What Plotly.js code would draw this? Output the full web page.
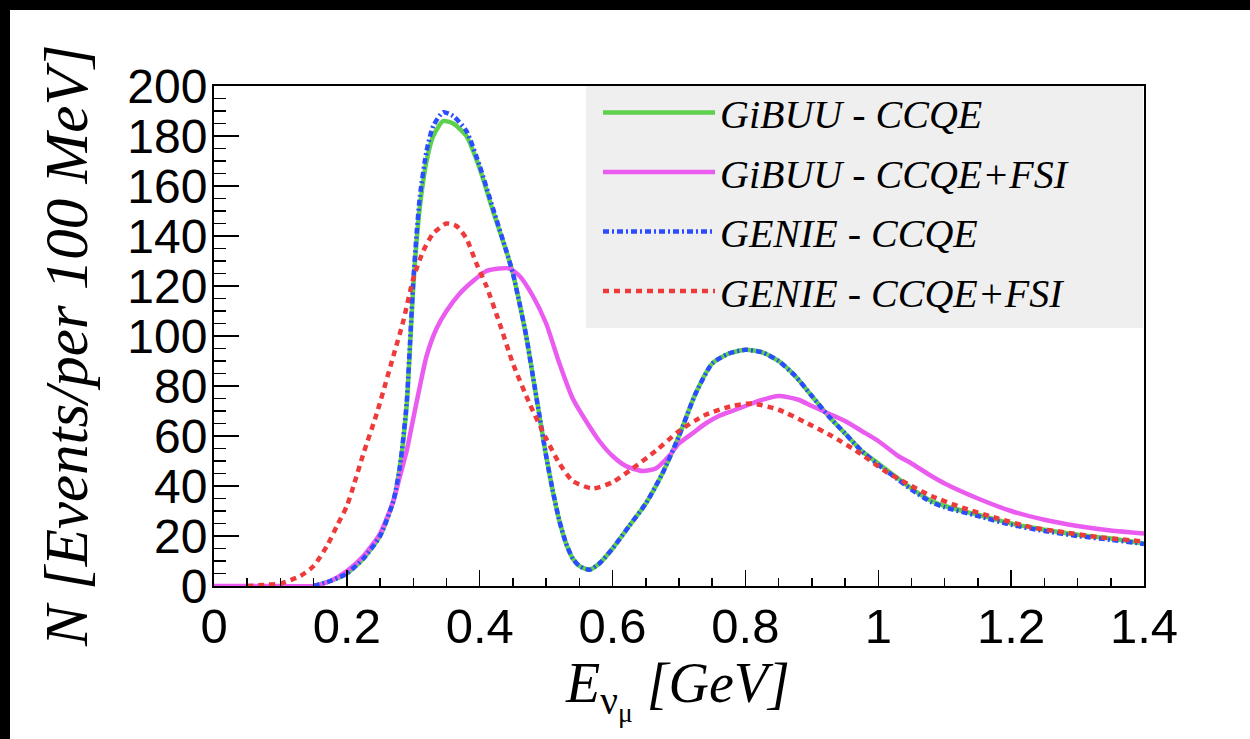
<!DOCTYPE html>
<html>
<head>
<meta charset="utf-8">
<script src="https://cdn.plot.ly/plotly-3.0.1.min.js"></script>
<style>html,body{margin:0;padding:0;background:#fff;}#plot{width:1250px;height:739px;}</style>
</head>
<body>
<div id="plot"></div>
<script>
// ---- data ----
const seriesNames = ["GiBUU - CCQE", "GiBUU - CCQE+FSI", "GENIE - CCQE", "GENIE - CCQE+FSI"];

const gibuuE = [0.15,0.175,0.20,0.225,0.25,0.27,0.28,0.29,0.295,0.30,0.305,0.31,0.32,0.33,0.345,0.36,0.38,0.40,0.42,0.44,0.45,0.46,0.47,0.48,0.49,0.50,0.51,0.52,0.53,0.54,0.55,0.565,0.58,0.60,0.625,0.65,0.675,0.70,0.725,0.75,0.775,0.80,0.825,0.85,0.875,0.90,0.925,0.95,0.975,1.0,1.03,1.05,1.08,1.10,1.15,1.20,1.25,1.30,1.35,1.40];
const gibuuN = [0,2,5,11,20,34,48,72,95,120,138,152,170,180,186,185,180,167,150,134,125,113,100,84,68,52,38,26,17,11,8,6.5,9,15,24,33,45,60,77,89,93,94.5,93.5,90,84,76,68,61,54,49,43,39,34,32,28.5,25,22.5,20.5,19,17];

const gibuuFsiE = [0,0.05,0.10,0.15,0.175,0.20,0.225,0.25,0.27,0.28,0.29,0.30,0.31,0.32,0.335,0.35,0.37,0.39,0.41,0.43,0.445,0.46,0.48,0.50,0.52,0.54,0.56,0.58,0.60,0.62,0.645,0.665,0.685,0.70,0.72,0.74,0.76,0.78,0.80,0.82,0.85,0.88,0.90,0.925,0.95,0.975,1.0,1.03,1.05,1.08,1.10,1.15,1.20,1.25,1.30,1.35,1.40];
const gibuuFsiN = [0,0,0,0,2,6,12,21,34,44,54,67,80,92,103,110,117,122,126,127,127,124,116,105,89,75,66,58,52,48,46,47,52,57,61,65,68,70,72,74,76,74.5,72,69,66,62,58,52,49,44,41,35,30,26.5,24,22.2,21];

const genieE = [0.15,0.175,0.20,0.225,0.25,0.27,0.28,0.29,0.295,0.30,0.305,0.31,0.32,0.33,0.345,0.36,0.38,0.40,0.42,0.44,0.45,0.46,0.47,0.48,0.49,0.50,0.51,0.52,0.53,0.54,0.55,0.565,0.58,0.60,0.625,0.65,0.675,0.70,0.725,0.75,0.775,0.80,0.825,0.85,0.875,0.90,0.925,0.95,0.975,1.0,1.03,1.05,1.08,1.10,1.15,1.20,1.25,1.30,1.35,1.40];
const genieN = [0,2,5,11,20,34,48,73,97,122,141,156,174,184,189.5,188,182,168,151,134,125,113,100,84,68,52,38,26,17,11,8,6.5,9,15,24,33,45,60,77,89,93,94.5,93.5,90,84,76,68,61,54,48.5,42.5,38.5,33.5,31.5,28,24.5,22,20,18.5,16.8];

const genieFsiE = [0.05,0.08,0.10,0.13,0.15,0.17,0.185,0.20,0.21,0.225,0.245,0.27,0.285,0.30,0.315,0.33,0.35,0.365,0.38,0.395,0.41,0.43,0.45,0.475,0.50,0.52,0.54,0.57,0.60,0.63,0.665,0.70,0.74,0.78,0.81,0.85,0.89,0.93,0.97,1.01,1.05,1.08,1.13,1.18,1.23,1.28,1.33,1.40];
const genieFsiN = [0,0.5,1,4,8,16,24,32,40,53,69,92,106,123,134,141,145,144,139,129,120,105,89,73,59,49,42,39,41.5,47,54,62,68.5,72,73,70.5,65.5,60,53.5,46,40,36,31,27,23.5,21.5,19.6,17.8];

const xTickVals = [0,0.2,0.4,0.6,0.8,1,1.2,1.4];
const yTickVals = [0,20,40,60,80,100,120,140,160,180,200];

// ---- drawing ----
const serif = "Liberation Serif";
const sans = "Liberation Sans";

function tr(x, y, name, color, dash, group) {
  return {
    x: x, y: y, name: name, type: "scatter", mode: "lines",
    legendgroup: group,
    line: {color: color, width: 4.5, dash: dash, shape: "spline", smoothing: 0.6},
    hoverinfo: "x+y+name"
  };
}

const traces = [
  tr(gibuuE, gibuuN, seriesNames[0], "#5dd04c", "solid", "g1"),
  tr(gibuuFsiE, gibuuFsiN, seriesNames[1], "#ea5cf0", "solid", "g2"),
  tr(genieE, genieN, seriesNames[2], "#2b4dff", "6px,3px,2px,3px", "g3"),
  tr(genieFsiE, genieFsiN, seriesNames[3], "#ee3a3a", "6px,5px", "g4")
];

const L = 214, R = 1144, T = 86, B = 586;
const W = 1250, H = 739;
const px = v => (v - L) / (R - L);
const py = v => (B - v) / (B - T);

const layout = {
  width: W, height: H,
  margin: {l: L, r: W - R, t: T, b: H - B, pad: 0},
  paper_bgcolor: "#ffffff",
  plot_bgcolor: "#ffffff",
  showlegend: true,
  legend: {
    x: px(598), y: py(80), xanchor: "left", yanchor: "top",
    bgcolor: "rgba(0,0,0,0)", borderwidth: 0,
    font: {family: serif, size: 40, style: "italic", color: "#000"},
    itemwidth: 112, tracegroupgap: 4.5, traceorder: "grouped"
  },
  xaxis: {
    range: [0, 1.4], tickmode: "array", tickvals: xTickVals,
    ticktext: xTickVals.map(v => String(v)),
    ticks: "inside", ticklen: 16, tickwidth: 1.5, tickcolor: "#000",
    minor: {dtick: 0.05, tick0: 0, ticks: "inside", ticklen: 8, tickwidth: 1.5, tickcolor: "#000"},
    showline: true, linecolor: "#000", linewidth: 2, mirror: true,
    showgrid: false, zeroline: false,
    tickfont: {family: sans, size: 49, color: "#000"},
    ticklabelstandoff: -4
  },
  yaxis: {
    range: [0, 200], tickmode: "array", tickvals: yTickVals,
    ticks: "inside", ticklen: 25, tickwidth: 1.5, tickcolor: "#000",
    minor: {dtick: 5, tick0: 0, ticks: "inside", ticklen: 12, tickwidth: 1.5, tickcolor: "#000"},
    showline: true, linecolor: "#000", linewidth: 2, mirror: true,
    showgrid: false, zeroline: false,
    tickfont: {family: sans, size: 48, color: "#000"},
    ticklabelstandoff: -5
  },
  shapes: [
    {type: "rect", xref: "paper", yref: "paper", x0: px(586), x1: px(1143), y0: py(328), y1: py(86),
     fillcolor: "#efefef", line: {width: 0}, layer: "below"},
    {type: "rect", xref: "paper", yref: "paper", x0: px(0), x1: px(10), y0: py(H), y1: py(0),
     fillcolor: "#000", line: {width: 0}, layer: "above"},
    {type: "rect", xref: "paper", yref: "paper", x0: px(0), x1: px(W), y0: py(10), y1: py(0),
     fillcolor: "#000", line: {width: 0}, layer: "above"}
  ],
  annotations: [
    {text: "N [Events/per 100 MeV]", xref: "paper", yref: "paper", x: px(66), y: py(346),
     xanchor: "center", yanchor: "middle", textangle: -90, showarrow: false,
     font: {family: serif, size: 61, style: "italic", color: "#000"}},
    {text: "E<sub><span style='font-style:normal'>ν</span><sub><span style='font-style:normal'>μ</span></sub></sub> [GeV]",
     xref: "paper", yref: "paper", x: px(677), y: py(690),
     xanchor: "center", yanchor: "middle", showarrow: false,
     font: {family: serif, size: 56, style: "italic", color: "#000"}}
  ]
};

Plotly.newPlot("plot", traces, layout, {displayModeBar: false, staticPlot: true});
</script>
</body>
</html>
